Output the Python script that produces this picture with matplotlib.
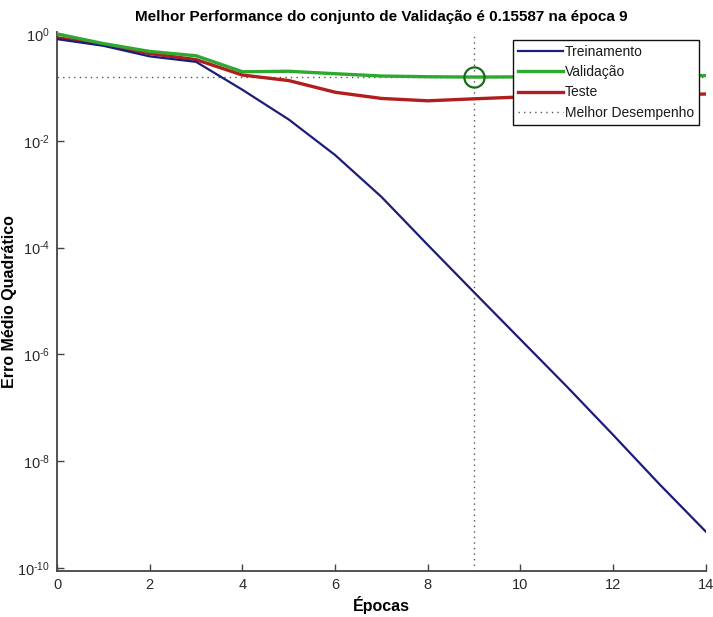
import matplotlib
matplotlib.use("Agg")
import matplotlib.pyplot as plt
from matplotlib.ticker import NullLocator

plt.rcParams["font.family"] = ["Liberation Sans", "DejaVu Sans"]
plt.rcParams["mathtext.fontset"] = "custom"
plt.rcParams["mathtext.rm"] = "Liberation Sans"
plt.rcParams["mathtext.it"] = "Liberation Sans:italic"
plt.rcParams["mathtext.bf"] = "Liberation Sans:bold"
plt.rcParams["axes.unicode_minus"] = False

# Mean squared error per training epoch
epochs = list(range(15))
treinamento = [0.80, 0.60, 0.38, 0.30, 0.090, 0.025, 0.0054, 8.9e-4, 1.12e-4,
               1.45e-5, 1.9e-6, 2.5e-7, 3.1e-8, 3.7e-9, 4.8e-10]
validacao = [1.0, 0.66, 0.47, 0.39, 0.196, 0.20, 0.18, 0.163, 0.158,
             0.15587, 0.157, 0.158, 0.160, 0.163, 0.166]
teste = [0.85, 0.63, 0.43, 0.33, 0.17, 0.134, 0.081, 0.062, 0.056,
         0.061, 0.066, 0.068, 0.070, 0.072, 0.075]

best_epoch = 9
best_perf = 0.15587
ytick_exponents = [-10, -8, -6, -4, -2, 0]


def power_label(k):
    # plain hyphen in the exponent, as in MATLAB-style labels
    exp = str(abs(k)) if k >= 0 else r"\text{-}" + str(abs(k))
    return rf"$10^{{{exp}}}$"


fig = plt.figure(figsize=(7.13, 6.17), dpi=100)
ax = fig.add_axes([0.080, 0.0745, 0.910, 0.8737])

ax.set_yscale("log")
ax.set_xlim(0, 14)
ax.set_ylim(10 ** -10.056, 10 ** 0.037)

# best-performance guides
ax.axhline(best_perf, color="#555555", linestyle=(0, (1, 3)), linewidth=1.0, zorder=1)
ax.axvline(best_epoch, color="#555555", linestyle=(0, (1, 3)), linewidth=1.0, zorder=1)

ax.plot(epochs, treinamento, color="#1c1c7a", linewidth=1.6, label="Treinamento", zorder=3)
ax.plot(epochs, validacao, color="#2ea82e", linewidth=2.4, label="Validação", zorder=3)
ax.plot(epochs, teste, color="#b01e1e", linewidth=2.4, label="Teste", zorder=2)
ax.plot([], [], color="#555555", linestyle=(0, (1, 3)), linewidth=1.0, label="Melhor Desempenho")

ax.plot([best_epoch], [best_perf], marker="o", markersize=14.5, markerfacecolor="none",
        markeredgecolor="#1a6a1a", markeredgewidth=1.6, zorder=4)

ax.set_xticks(range(0, 15, 2))
ax.set_yticks([10.0 ** k for k in ytick_exponents])
ax.set_yticklabels([power_label(k) for k in ytick_exponents])
ax.yaxis.set_minor_locator(NullLocator())

for side in ("top", "right"):
    ax.spines[side].set_visible(False)
for side in ("left", "bottom"):
    ax.spines[side].set_color("#444444")
    ax.spines[side].set_linewidth(1.3)

ax.tick_params(axis="both", direction="in", length=5, width=1.0, color="#444444",
               labelsize=10.5, labelcolor="#2a2a2a", pad=5)

ax.set_title("Melhor Performance do conjunto de Validação é 0.15587 na época 9",
             fontsize=11, fontweight="bold", pad=8)
ax.set_xlabel("Épocas", fontsize=11.5, fontweight="bold")
ax.xaxis.set_label_coords(0.5, -0.046)
ax.set_ylabel("Erro Médio Quadrático", fontsize=11.5, fontweight="bold")
ax.yaxis.set_label_coords(-0.061, 0.5)

leg = ax.legend(loc="upper right", bbox_to_anchor=(0.989, 0.985), borderaxespad=0,
                fontsize=10, handlelength=3.2, handletextpad=0.15, labelspacing=0.45,
                fancybox=False, framealpha=1, edgecolor="#111111", borderpad=0.35)
leg.get_frame().set_linewidth(1.0)
for t in leg.get_texts():
    t.set_color("#1a1a1a")

fig.savefig("out.png", dpi=100)
